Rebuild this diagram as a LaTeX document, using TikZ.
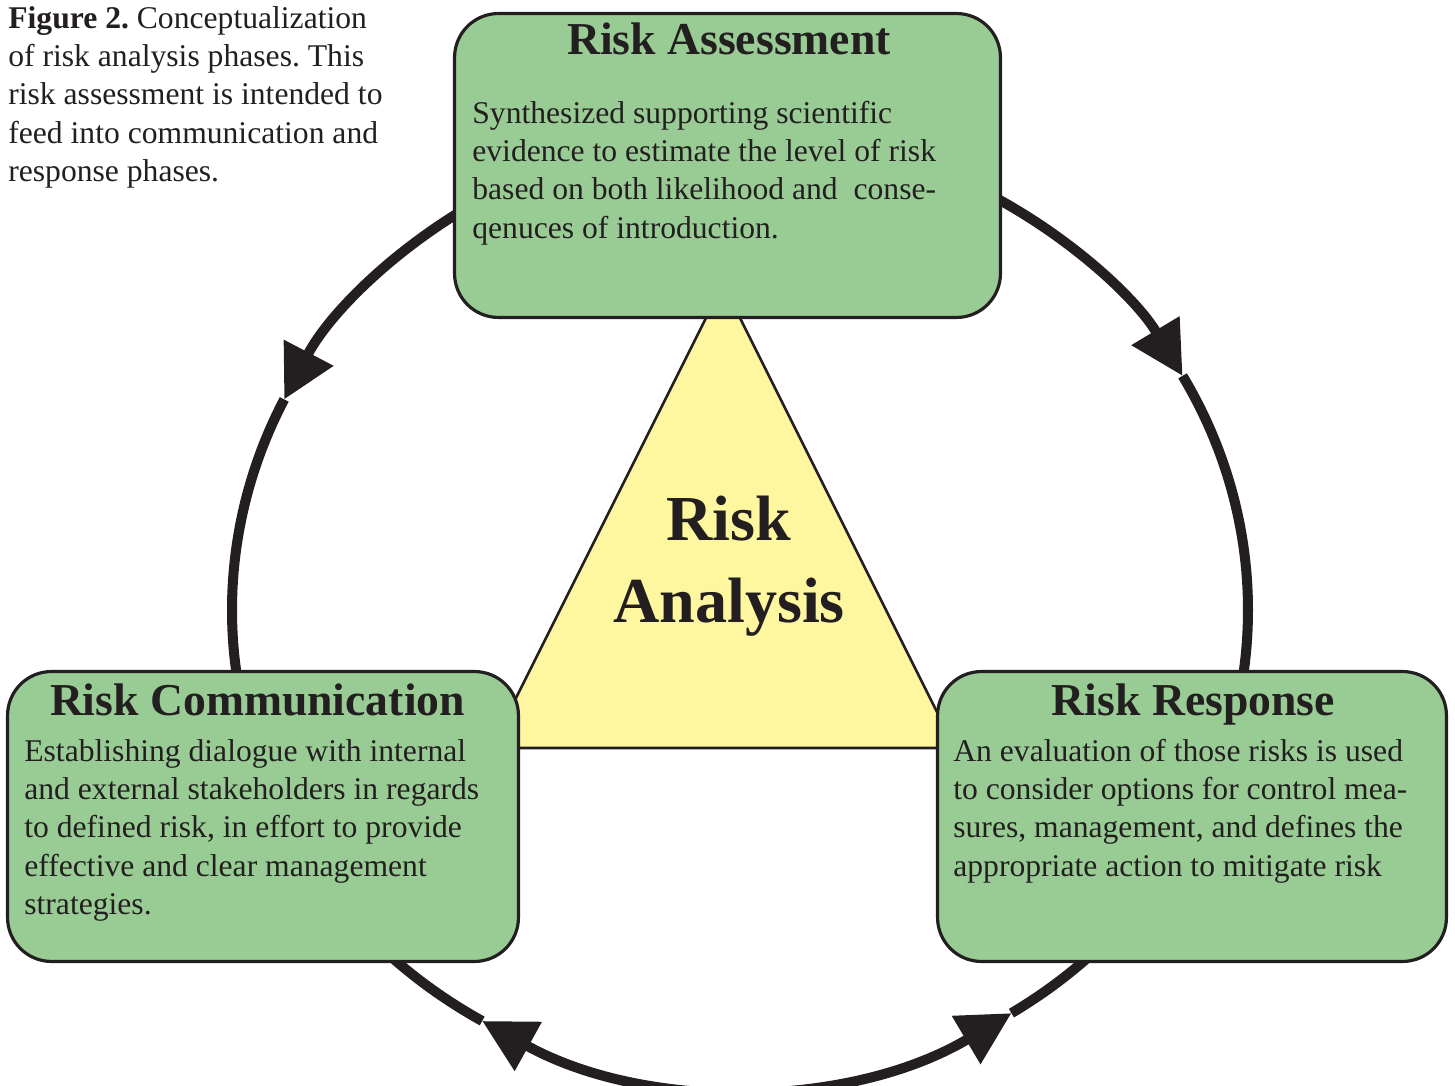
\documentclass[tikz,border=0pt]{standalone}
\usepackage{fontspec}
\setmainfont{Liberation Serif}
\usetikzlibrary{arrows.meta,calc}

\definecolor{ink}{RGB}{35,31,32}
\definecolor{boxgreen}{RGB}{153,204,148}
\definecolor{coreyellow}{RGB}{255,247,160}

% fixes the height of a paragraph's first line, so that its top sits at a known distance above the baseline
\newcommand\firstline{\rule{0pt}{15pt}}

\begin{document}
\frenchspacing
\begin{tikzpicture}[x=0.02cm, y=0.02cm,
  phase/.style={draw=ink, line width=1.8pt, fill=boxgreen, rounded corners=25pt, inner sep=0pt},
  loopline/.style={draw=ink, line width=5.7pt},
  tipped/.style={-{Triangle[length=30pt, width=30.5pt]}},
  bothtipped/.style={{Triangle[length=30pt, width=30.5pt]}-{Triangle[length=30pt, width=30.5pt]}},
  heading/.style={anchor=base, inner sep=0pt, text=ink, font=\fontsize{26pt}{30pt}\selectfont\bfseries},
  para/.style={anchor=north west, align=left, inner sep=0pt, text=ink, font=\fontsize{18pt}{21.8pt}\selectfont},
  core/.style={anchor=north, align=center, inner sep=0pt, text=ink, font=\fontsize{36.5pt}{47pt}\selectfont\bfseries}
]
\useasboundingbox (0,0) rectangle (1455,1086);

% central triangle
\coordinate (apex) at (723,802);
\coordinate (baseL) at (491,338);
\coordinate (baseR) at (955,338);
\draw[ink, line width=1.5pt, fill=coreyellow] (apex) -- (baseL) -- (baseR) -- cycle;
\node[core] (analysis) at (729,598.9) {\rule{0pt}{30pt}Risk\\Analysis};

% the cycle around the triangle (an ellipse)
\coordinate (C) at (740,476);
\coordinate (l0) at ($(C)+(118:508 and 477)$);
\coordinate (l1) at ($(C)+(153.8:508 and 477)$);
\coordinate (r0) at ($(C)+(62:508 and 477)$);
\coordinate (r1) at ($(C)+(29.4:508 and 477)$);
\coordinate (b0) at ($(C)+(225:508 and 477)$);
\coordinate (b1) at ($(C)+(239.5:508 and 477)$);
\coordinate (b2) at ($(C)+(302.3:508 and 477)$);

% assessment -> communication
\draw[loopline, tipped] (l0) arc[start angle=118, end angle=153.8, x radius=508, y radius=477];
\draw[loopline] (l1) arc[start angle=153.8, end angle=190, x radius=508, y radius=477];
% assessment -> response
\draw[loopline, tipped] (r0) arc[start angle=62, end angle=29.4, x radius=508, y radius=477];
\draw[loopline] (r1) arc[start angle=29.4, end angle=-10, x radius=508, y radius=477];
% communication <-> response
\draw[loopline] (b0) arc[start angle=225, end angle=239.5, x radius=508, y radius=477];
\draw[loopline, bothtipped] (b1) arc[start angle=239.5, end angle=302.3, x radius=508, y radius=477];
\draw[loopline] (b2) arc[start angle=302.3, end angle=315, x radius=508, y radius=477];

% phase boxes
\node[phase, minimum width=10.92cm, minimum height=6.08cm] (assess) at (727.5,920.5) {};
\node[phase, minimum width=10.22cm, minimum height=5.80cm] (comm) at (263,269.5) {};
\node[phase, minimum width=10.18cm, minimum height=5.80cm] (resp) at (1192,269.5) {};

\node[heading] (assessTitle) at (729,1031) {Risk Assessment};
\node[para] (assessText) at (472,989.5) {\firstline Synthesized supporting scientific\\
  evidence to estimate the level of risk\\
  based on both likelihood and \ conse-\\
  qenuces of introduction.};

\node[heading] (commTitle) at (257.5,370) {Risk Communication};
\node[para] (commText) at (24,351.5) {\firstline Establishing dialogue with internal\\
  and external stakeholders in regards\\
  to defined risk, in effort to provide\\
  effective and clear management\\
  strategies.};

\node[heading] (respTitle) at (1193.5,370) {Risk Response};
\node[para] (respText) at (953,351.5) {\firstline An evaluation of those risks is used\\
  to consider options for control mea-\\
  sures, management, and defines the\\
  appropriate action to mitigate risk};

% figure caption
\node[para] (caption) at (8,1084.5) {\firstline\textbf{Figure 2.} Conceptualization\\
  of risk analysis phases. This\\
  risk assessment is intended to\\
  feed into communication and\\
  response phases.};
\end{tikzpicture}
\end{document}
